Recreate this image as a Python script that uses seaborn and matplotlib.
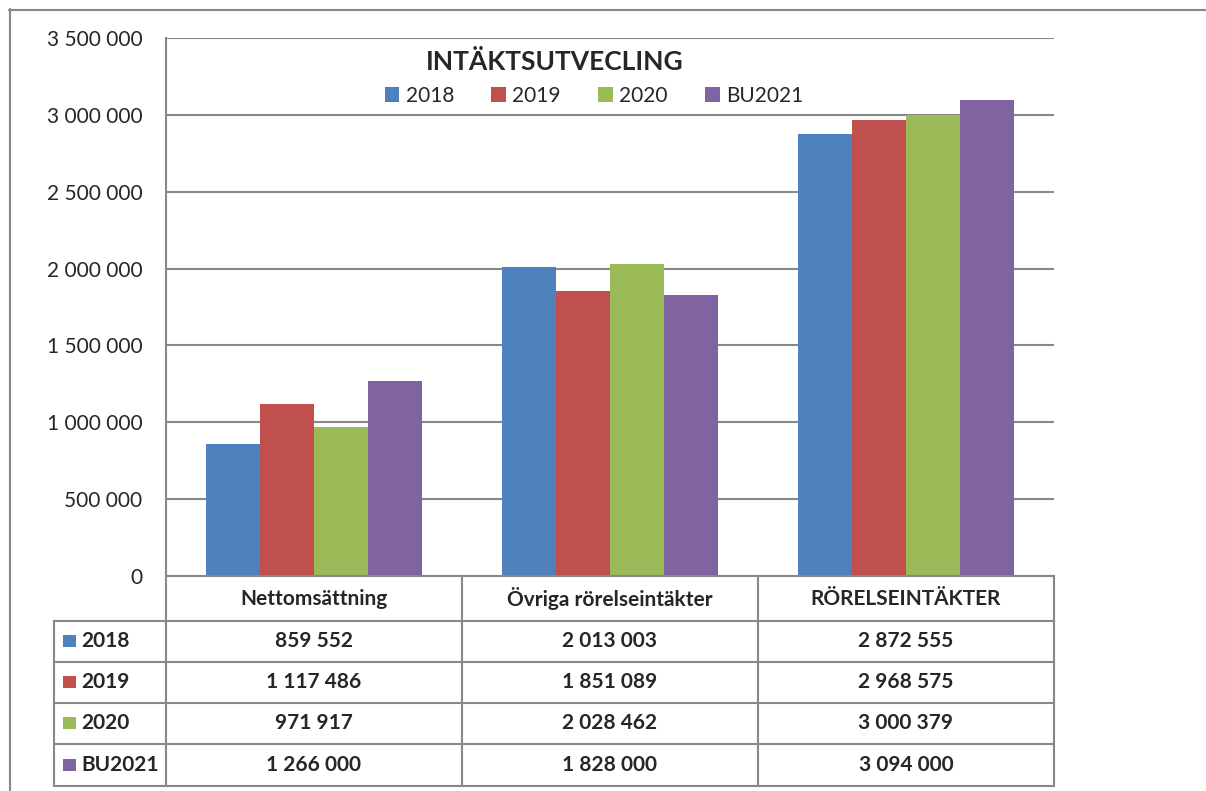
import pandas as pd
import matplotlib.pyplot as plt
import seaborn as sns
from matplotlib.patches import Patch, Rectangle
from matplotlib.lines import Line2D
from matplotlib.ticker import FuncFormatter, MultipleLocator

# Data
categories = ['Nettomsättning', 'Övriga rörelseintäkter', 'RÖRELSEINTÄKTER']
series = ['2018', '2019', '2020', 'BU2021']
v2018 = [859552, 2013003, 2872555]
v2019 = [1117486, 1851089, 2968575]
v2020 = [971917, 2028462, 3000379]
vbu2021 = [1266000, 1828000, 3094000]
colors = ['#4F81BD', '#C0504D', '#9BBB59', '#8064A2']

values = [v2018, v2019, v2020, vbu2021]
df = pd.DataFrame({
    'kategori': categories * len(series),
    'serie': [s for s in series for _ in categories],
    'belopp': [v for vals in values for v in vals],
})

def fmt(v):
    return f"{int(v):,}".replace(',', ' ')

sns.set_style('white')
plt.rcParams['font.family'] = ['Lato', 'DejaVu Sans']

W, H = 1206, 791
fig = plt.figure(figsize=(W / 100, H / 100), dpi=100)

def px(x0, y0, x1, y1):
    # pixel box (top-left origin) -> figure fraction
    return [x0 / W, 1 - y1 / H, (x1 - x0) / W, (y1 - y0) / H]

grey = '#888888'

# Bar chart
ax = fig.add_axes(px(166, 38, 1054, 576))
sns.barplot(data=df, x='kategori', y='belopp', hue='serie', order=categories,
            hue_order=series, palette=colors, width=0.727, linewidth=0,
            saturation=1, ax=ax, legend=False)
ax.set_xlim(-0.5, 2.5)
ax.set_ylim(0, 3500000)
ax.yaxis.set_major_locator(MultipleLocator(500000))
ax.yaxis.set_major_formatter(FuncFormatter(lambda v, p: fmt(v)))
ax.set_xticks([])
ax.set_xlabel('')
ax.set_ylabel('')
ax.grid(axis='y', color=grey, lw=1.5)
ax.set_axisbelow(True)
for s in ['top', 'right']:
    ax.spines[s].set_visible(False)
for s in ['left', 'bottom']:
    ax.spines[s].set_color(grey)
    ax.spines[s].set_linewidth(1.5)
ax.tick_params(axis='y', length=5, width=1.5, color=grey, pad=12, labelsize=15)

# Title and legend
fig.text(555 / W, 1 - 62 / H, 'INTÄKTSUTVECLING', ha='center', va='center',
         fontsize=19, fontweight='bold')
handles = [Patch(facecolor=c, edgecolor='none', label=s) for s, c in zip(series, colors)]
ax.legend(handles=handles, loc='center', bbox_to_anchor=(594 / W, 1 - 96 / H),
          bbox_transform=fig.transFigure, ncol=4, frameon=False, fontsize=15,
          handlelength=0.7, handleheight=0.7, handletextpad=0.3, columnspacing=1.8)

# Data table
tab = fig.add_axes(px(50, 570, 1058, 790))
tab.set_xlim(50, 1058)
tab.set_ylim(790, 570)
tab.axis('off')
col_edges = [166, 462, 758, 1054]
row_edges = [621, 662, 703, 744, 786]
lk = dict(color=grey, lw=1.5, solid_capstyle='projecting')
for x in col_edges:
    tab.plot([x, x], [576, 786], **lk)
tab.plot([54, 54], [621, 786], **lk)
for y in row_edges:
    tab.plot([54, 1054], [y, y], **lk)

for j, cat in enumerate(categories):
    cx = (col_edges[j] + col_edges[j + 1]) / 2
    tab.text(cx, 599, cat, ha='center', va='center', fontsize=15, fontweight='bold')
for i, (s, vals) in enumerate(zip(series, values)):
    cy = (row_edges[i] + row_edges[i + 1]) / 2
    tab.add_patch(Rectangle((63, cy - 6), 13, 12, facecolor=colors[i], edgecolor='none'))
    tab.text(81, cy, s, ha='left', va='center', fontsize=15, fontweight='bold')
    for j, v in enumerate(vals):
        cx = (col_edges[j] + col_edges[j + 1]) / 2
        tab.text(cx, cy, fmt(v), ha='center', va='center', fontsize=15, fontweight='bold')

# Outer chart border (top and left visible)
fig.add_artist(Line2D([9 / W, 1], [1 - 9.5 / H, 1 - 9.5 / H], color=grey, lw=1.5,
                      transform=fig.transFigure))
fig.add_artist(Line2D([9.5 / W, 9.5 / W], [0, 1 - 9 / H], color=grey, lw=1.5,
                      transform=fig.transFigure))

fig.savefig('out.png', dpi=100)
